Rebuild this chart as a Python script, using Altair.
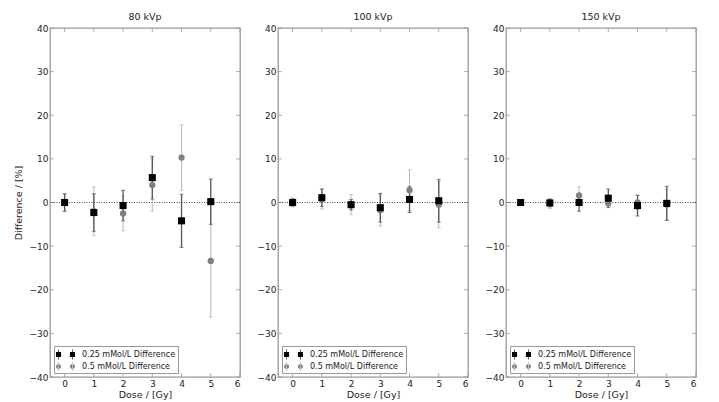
import altair as alt
import pandas as pd

# ---------------- data ----------------
doses = [0, 1, 2, 3, 4, 5]
panel_titles = ["80 kVp", "100 kVp", "150 kVp"]
series_names = ["0.25 mMol/L Difference", "0.5 mMol/L Difference"]

kvp80_025 = [0.0, -2.3, -0.7, 5.7, -4.2, 0.2]
kvp80_025_err = [2.0, 4.3, 3.5, 4.9, 6.1, 5.2]
kvp80_05 = [0.0, -2.0, -2.5, 4.0, 10.3, -13.4]
kvp80_05_err = [2.0, 5.6, 4.0, 6.0, 7.5, 12.9]

kvp100_025 = [0.0, 1.1, -0.5, -1.2, 0.7, 0.4]
kvp100_025_err = [0.8, 2.0, 1.2, 3.3, 3.0, 4.9]
kvp100_05 = [0.0, 0.8, -0.5, -1.8, 2.8, -0.5]
kvp100_05_err = [1.0, 2.3, 2.3, 3.6, 4.7, 5.3]

kvp150_025 = [0.0, -0.1, 0.0, 1.0, -0.7, -0.2]
kvp150_025_err = [0.6, 0.9, 2.0, 2.1, 2.4, 3.9]
kvp150_05 = [0.0, -0.3, 1.6, -0.2, 0.0, -0.5]
kvp150_05_err = [0.7, 1.1, 2.0, 1.0, 1.6, 3.5]

x_ticks = [0, 1, 2, 3, 4, 5, 6]
y_ticks = [-40, -30, -20, -10, 0, 10, 20, 30, 40]

# ---------------- style ----------------
W, H = 190, 349
FONT = "DejaVu Sans"
TXT = "#222222"
FRAME = "#999999"

PATH_SQ = ("M-1.5,-0.4H-0.7V0.4H-1.5Z M0.7,-0.4H1.5V0.4H0.7Z "
           "M-1.15,-0.8H-1.05V0.8H-1.15Z M1.05,-0.8H1.15V0.8H1.05Z")
PATH_CI = ("M-1.5,0A0.4,0.4 0 1,0 -0.7,0A0.4,0.4 0 1,0 -1.5,0Z "
           "M0.7,0A0.4,0.4 0 1,0 1.5,0A0.4,0.4 0 1,0 0.7,0Z "
           "M-1.14,-0.7H-1.06V0.7H-1.14Z M1.06,-0.7H1.14V0.7H1.06Z")


def make_axis(title, values, lp, tp):
    kw = dict(values=values, grid=False, ticks=False, domain=False,
              labelPadding=lp, titlePadding=tp, format="d")
    return alt.Axis(title=title, **kw)


def panel(title, v025, e025, v05, e05, show_ytitle):
    rows = []
    for name, vals, errs in [(series_names[0], v025, e025), (series_names[1], v05, e05)]:
        for d, v, e in zip(doses, vals, errs):
            rows.append({"dose": d, "val": v, "lo": v - e, "hi": v + e, "series": name})
    df = pd.DataFrame(rows)
    d025 = df[df.series == series_names[0]]
    d05 = df[df.series == series_names[1]]

    xs = alt.Scale(domain=[-0.5, 6], nice=False, zero=False)
    ys = alt.Scale(domain=[-40, 40], nice=False, zero=False)
    ytitle = "Difference / [%]" if show_ytitle else None
    X = alt.X("dose:Q", scale=xs, axis=make_axis("Dose / [Gy]", x_ticks, 2, 1))
    Y = alt.Y("val:Q", scale=ys, axis=make_axis(ytitle, y_ticks, 2, 6))
    Ylo = alt.Y("lo:Q", scale=ys, axis=make_axis(ytitle, y_ticks, 2, 6))
    Yhi = alt.Y("hi:Q", scale=ys, axis=make_axis(ytitle, y_ticks, 2, 6))

    layers = []
    # inside ticks
    tx = pd.DataFrame({"dose": x_ticks})
    ty = pd.DataFrame({"val": y_ticks})
    layers.append(alt.Chart(tx).mark_rule(color=FRAME, strokeWidth=0.8).encode(
        x=X, y=alt.value(H), y2=alt.value(H - 4)))
    layers.append(alt.Chart(tx).mark_rule(color=FRAME, strokeWidth=0.8).encode(
        x=X, y=alt.value(0), y2=alt.value(4)))
    layers.append(alt.Chart(ty).mark_rule(color=FRAME, strokeWidth=0.8).encode(
        y=Y, x=alt.value(0), x2=alt.value(4)))
    layers.append(alt.Chart(ty).mark_rule(color=FRAME, strokeWidth=0.8).encode(
        y=Y, x=alt.value(W), x2=alt.value(W - 4)))
    # zero line
    layers.append(alt.Chart(pd.DataFrame({"val": [0]})).mark_rule(
        color="#333333", strokeWidth=0.9, strokeDash=[1, 1.5]).encode(y=Y))

    for sub, ecol, ew in [(d05, "#b8b8b8", 1.0), (d025, "#555555", 1.3)]:
        b = alt.Chart(sub)
        layers.append(b.mark_rule(color=ecol, strokeWidth=ew).encode(x=X, y=Ylo, y2="hi:Q"))
        layers.append(b.mark_tick(color=ecol, orient="horizontal", size=4, thickness=1).encode(x=X, y=Ylo))
        layers.append(b.mark_tick(color=ecol, orient="horizontal", size=4, thickness=1).encode(x=X, y=Yhi))
    layers.append(alt.Chart(d05).mark_point(filled=True, shape="circle", size=40, opacity=1,
                                            color="#808080").encode(x=X, y=Y))
    layers.append(alt.Chart(d025).mark_point(filled=True, shape="square", size=50, opacity=1,
                                             color="#000000").encode(x=X, y=Y))

    # legend layer (points outside the visible domain, clipped)
    leg = pd.DataFrame({"dose": [100, 100], "val": [1000, 1000], "series": series_names})
    layers.append(alt.Chart(leg).mark_point(filled=True, clip=True, opacity=1).encode(
        x=X, y=Y,
        color=alt.Color("series:N", scale=alt.Scale(domain=series_names, range=["#000000", "#808080"]),
                        legend=alt.Legend(title=None, orient="bottom-left", offset=4,
                                          strokeColor=FRAME, fillColor="white", padding=2,
                                          labelFontSize=8, labelColor=TXT, labelFont=FONT,
                                          symbolSize=160, symbolStrokeWidth=0, symbolOpacity=1,
                                          symbolOffset=3, rowPadding=0, labelOffset=10)),
        shape=alt.Shape("series:N", scale=alt.Scale(domain=series_names, range=[PATH_SQ, PATH_CI]),
                        legend=alt.Legend(title=None, orient="bottom-left", offset=4)),
    ))

    return alt.layer(*layers).properties(
        width=W, height=H,
        title=alt.Title(title, fontSize=9.5, font=FONT, color=TXT, fontWeight="normal", offset=3),
    ).resolve_scale(color="independent", shape="independent")


p1 = panel(panel_titles[0], kvp80_025, kvp80_025_err, kvp80_05, kvp80_05_err, True)
p2 = panel(panel_titles[1], kvp100_025, kvp100_025_err, kvp100_05, kvp100_05_err, False)
p3 = panel(panel_titles[2], kvp150_025, kvp150_025_err, kvp150_05, kvp150_05_err, False)

chart = alt.hconcat(p1, p2, p3, spacing=14).resolve_scale(
    color="independent", shape="independent"
).properties(
    padding={"left": 12, "top": 10, "right": 5, "bottom": 2},
    background="white",
).configure_view(
    stroke=FRAME, strokeWidth=1.3
).configure_axis(
    labelFont=FONT, titleFont=FONT, labelFontSize=9, titleFontSize=9.5,
    labelColor=TXT, titleColor=TXT, titleFontWeight="normal"
)

chart.save("out.html", embed_options={"renderer": "svg", "actions": False})
